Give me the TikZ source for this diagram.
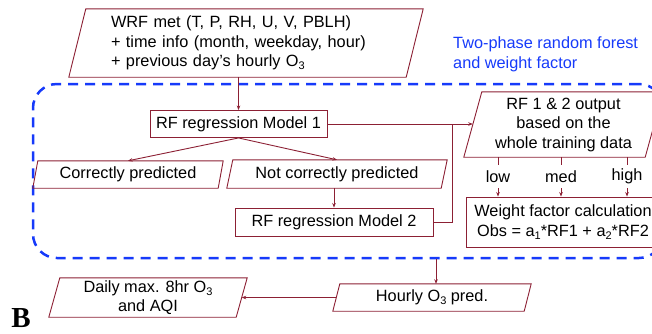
\documentclass[tikz,border=0pt]{standalone}
\usepackage{fontspec}
\setmainfont{Liberation Sans}
\newfontfamily\serifbold{Liberation Serif}
\usetikzlibrary{arrows.meta}
\definecolor{flowred}{RGB}{140,32,52}
\definecolor{groupblue}{RGB}{22,58,250}
% lowered small index, as in O3 or a1
\newcommand{\lowidx}[1]{\raisebox{-3.2pt}{\fontsize{11}{11}\selectfont #1}}
\tikzset{
  x=1pt, y=-1pt,
  every node/.style={font=\fontsize{16.3}{19.5}\selectfont, inner sep=0pt},
  boxline/.style={draw=flowred, line width=0.9pt},
  plainbox/.style={boxline, rectangle},
  slantbox/.style={rectangle},
  arr/.style={draw=flowred, line width=0.9pt, -{Stealth[length=4.5pt,width=3.5pt]}},
  conn/.style={draw=flowred, line width=0.9pt},
  grpbox/.style={draw=groupblue, line width=2.5pt, dash pattern=on 10pt off 7pt,
                 rounded corners=24pt, rectangle},
}
% outline of a right-leaning parallelogram around a node: #1 node, #2 slant
\newcommand{\slantframe}[2]{%
  \draw[boxline] ([xshift=#2pt]#1.north west) -- (#1.north east)
    -- ([xshift=-#2pt]#1.south east) -- (#1.south west) -- cycle;}
\begin{document}
\begin{tikzpicture}
\useasboundingbox (0,0) rectangle (652,333);
\clip (0,0) rectangle (652,333);

% dashed group around the two-phase model
\node[grpbox, minimum width=630pt, minimum height=174pt] (grp) at (348,171) {};

% input data
\node[slantbox, minimum width=354pt, minimum height=68pt, text width=354pt,
      align=left] (inp) at (246,43)
  {\hspace*{42pt}WRF met (T, P, RH, U, V, PBLH)\\
   \hspace*{42pt}+ time info (month, weekday, hour)\\
   \hspace*{42pt}+ previous day’s hourly O\lowidx{3}};
\slantframe{inp}{17}

\node[text=groupblue, align=left, anchor=west] (title) at (453,54.5)
  {Two-phase random forest\\and weight factor};

% first-phase model and its split
\node[plainbox, minimum width=177pt, minimum height=27pt] (rf1) at (238.5,124) {RF regression Model 1};

\node[slantbox, minimum width=190pt, minimum height=27pt] (cp) at (128,174.5) {Correctly predicted};
\slantframe{cp}{5}
\node[slantbox, minimum width=220pt, minimum height=28pt] (ncp) at (337,174) {Not correctly predicted};
\slantframe{ncp}{6}

\node[plainbox, minimum width=198pt, minimum height=28pt] (rf2) at (334,222) {RF regression Model 2};

% combined output and weighting
\node[slantbox, minimum width=199pt, minimum height=65pt, align=center] (out) at (563.5,124.5)
  {RF 1 \& 2 output\\based on the\\whole training data};
\slantframe{out}{18}

\node[minimum height=23pt] (lo) at (498,176.5) {low};
\node[minimum height=23pt] (md) at (561,176.5) {med};
\node[minimum height=23pt] (hi) at (627,176.5) {high};

\node[plainbox, minimum width=194pt, minimum height=50pt, align=center] (wf) at (563,222)
  {Weight factor calculation\\Obs = a\lowidx{1}*RF1 + a\lowidx{2}*RF2};

% final products
\node[slantbox, minimum width=198pt, minimum height=27pt] (hourly) at (432,297.5) {Hourly O\lowidx{3} pred.};
\slantframe{hourly}{7}
\node[slantbox, minimum width=198pt, minimum height=39pt, align=center] (daily) at (148,297.5)
  {Daily max. 8hr O\lowidx{3}\\and AQI};
\slantframe{daily}{11}

\node[font=\serifbold\bfseries\fontsize{29}{29}\selectfont] (panel) at (21,318) {B};

% connectors
\draw[arr] (inp.south -| rf1.north) -- (rf1.north);
\draw[arr] (rf1.south) -- (cp.north);
\draw[arr] (rf1.south) -- (ncp.north);
\draw[arr] (ncp.south -| rf2.north) -- (rf2.north);
\coordinate (join) at (452,124);
\draw[arr] (rf1.east) -- ([xshift=9pt]out.west |- rf1.east);
\draw[conn] (rf2.east) -| (join);
\foreach \lv in {lo,md,hi}{
  \draw[conn] (\lv.north |- out.south) -- (\lv.north);
  \draw[arr] (\lv.south) -- (\lv.south |- wf.north);
}
\draw[arr] ([xshift=4pt]grp.south -| hourly.north) -- ([xshift=4pt]hourly.north);
\draw[arr] ([xshift=3.5pt]hourly.west) -- ([xshift=-5.5pt]daily.east);
\end{tikzpicture}
\end{document}
